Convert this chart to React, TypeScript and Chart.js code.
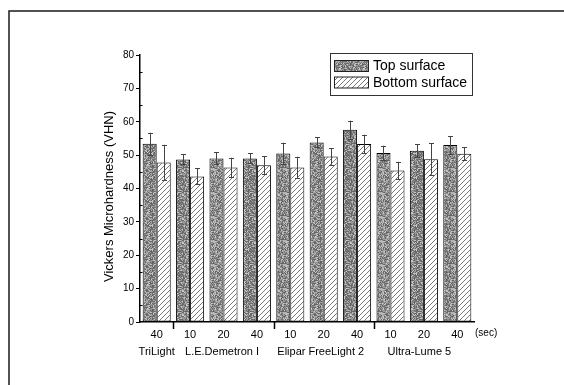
import React, { useEffect, useRef } from 'react';
import { Chart, registerables } from 'chart.js';
Chart.register(...registerables);

const categories = ['40', '10', '20', '40', '10', '20', '40', '10', '20', '40'];
const groupNames = ['TriLight', 'L.E.Demetron I', 'Elipar FreeLight 2', 'Ultra-Lume 5'];
const groupSizes = [1, 3, 3, 3];
const topValues = [53.4, 48.7, 49.0, 49.0, 50.5, 53.8, 57.6, 50.6, 51.3, 53.0];
const topErrors = [3.3, 1.5, 1.8, 1.5, 3.2, 1.5, 2.7, 2.2, 2.0, 2.6];
const bottomValues = [47.8, 43.6, 46.3, 47.0, 46.3, 49.6, 53.3, 45.4, 48.8, 50.4];
const bottomErrors = [5.3, 2.4, 2.9, 2.7, 3.2, 2.5, 2.8, 2.6, 4.7, 1.9];
const seriesLabels = ['Top surface', 'Bottom surface'];
const unitLabel = '(sec)';
const yTitle = 'Vickers Microhardness (VHN)';
const yMin = 0;
const yMax = 80;
const yStep = 10;

const FONT = '"Liberation Sans", Arial, sans-serif';

function makeSpeckle(): CanvasPattern | string {
  const c = document.createElement('canvas');
  c.width = 24;
  c.height = 24;
  const ctx = c.getContext('2d');
  if (!ctx) return '#888';
  const img = ctx.createImageData(24, 24);
  let s = 12345;
  for (let i = 0; i < 24 * 24; i++) {
    s = (s * 1103515245 + 12345) & 0x7fffffff;
    const r = (s >> 8) % 100;
    const v = r < 45 ? 95 + (r % 30) : r < 80 ? 140 + (r % 30) : 185 + (r % 40);
    img.data[i * 4] = v;
    img.data[i * 4 + 1] = v;
    img.data[i * 4 + 2] = v;
    img.data[i * 4 + 3] = 255;
  }
  ctx.putImageData(img, 0, 0);
  return ctx.createPattern(c, 'repeat') || '#888';
}

function makeHatch(): CanvasPattern | string {
  const n = 5;
  const c = document.createElement('canvas');
  c.width = n;
  c.height = n;
  const ctx = c.getContext('2d');
  if (!ctx) return '#eee';
  ctx.fillStyle = '#ffffff';
  ctx.fillRect(0, 0, n, n);
  ctx.strokeStyle = '#7a7a7a';
  ctx.lineWidth = 1;
  ctx.beginPath();
  ctx.moveTo(-1, n + 1);
  ctx.lineTo(n + 1, -1);
  ctx.moveTo(-1, 1);
  ctx.lineTo(1, -1);
  ctx.moveTo(n - 1, n + 1);
  ctx.lineTo(n + 1, n - 1);
  ctx.stroke();
  return ctx.createPattern(c, 'repeat') || '#eee';
}

const errors = [topErrors, bottomErrors];

const extrasPlugin = {
  id: 'extras',
  beforeDraw(chart: any) {
    const ctx = chart.ctx;
    ctx.save();
    ctx.fillStyle = '#fff';
    ctx.fillRect(0, 0, chart.width, chart.height);
    ctx.strokeStyle = '#1a1a1a';
    ctx.lineWidth = 1.5;
    ctx.beginPath();
    ctx.moveTo(9, chart.height);
    ctx.lineTo(9, 11);
    ctx.lineTo(chart.width, 11);
    ctx.stroke();
    ctx.restore();
  },
  afterDatasetsDraw(chart: any) {
    const ctx = chart.ctx;
    const y = chart.scales.y;
    ctx.save();
    ctx.strokeStyle = '#444';
    ctx.lineWidth = 1;
    chart.data.datasets.forEach((ds: any, di: number) => {
      const meta = chart.getDatasetMeta(di);
      meta.data.forEach((bar: any, i: number) => {
        const v = ds.data[i];
        const e = errors[di][i];
        const x = Math.round(bar.x) + 0.5;
        const yt = y.getPixelForValue(v + e);
        const yb = y.getPixelForValue(v - e);
        ctx.beginPath();
        ctx.moveTo(x, yt);
        ctx.lineTo(x, yb);
        ctx.moveTo(x - 2.5, Math.round(yt) + 0.5);
        ctx.lineTo(x + 2.5, Math.round(yt) + 0.5);
        ctx.moveTo(x - 2.5, Math.round(yb) + 0.5);
        ctx.lineTo(x + 2.5, Math.round(yb) + 0.5);
        ctx.stroke();
      });
    });
    ctx.restore();
  },
  afterDraw(chart: any) {
    const ctx = chart.ctx;
    const area = chart.chartArea;
    const x = chart.scales.x;
    const y = chart.scales.y;
    ctx.save();
    // minor ticks on y axis
    ctx.strokeStyle = '#000';
    ctx.lineWidth = 1;
    for (let v = yMin + yStep / 2; v < yMax; v += yStep) {
      const py = Math.round(y.getPixelForValue(v)) + 0.5;
      ctx.beginPath();
      ctx.moveTo(area.left, py);
      ctx.lineTo(area.left + 2.5, py);
      ctx.stroke();
    }
    // group separators and group names
    const catW = (area.right - area.left) / categories.length;
    let start = 0;
    ctx.fillStyle = '#000';
    ctx.font = '11px ' + FONT;
    ctx.textAlign = 'center';
    ctx.textBaseline = 'middle';
    groupNames.forEach((name, gi) => {
      const end = start + groupSizes[gi] - 1;
      const cx = (x.getPixelForValue(start) + x.getPixelForValue(end)) / 2;
      ctx.fillText(name, cx - gi * 1.5, area.bottom + 30);
      if (gi > 0) {
        const sx = Math.round(x.getPixelForValue(start) - catW / 2) + 0.5;
        ctx.beginPath();
        ctx.lineWidth = 1.5;
        ctx.moveTo(sx, area.bottom);
        ctx.lineTo(sx, area.bottom + 7);
        ctx.stroke();
      }
      start = end + 1;
    });
    // unit label
    ctx.font = '10px ' + FONT;
    ctx.textAlign = 'left';
    ctx.fillText(unitLabel, area.right + 1, area.bottom + 11);
    // y title
    ctx.save();
    ctx.translate(area.left - 31, (area.top + area.bottom) / 2 + 8);
    ctx.rotate(-Math.PI / 2);
    ctx.textAlign = 'center';
    ctx.textBaseline = 'middle';
    ctx.font = '13px ' + FONT;
    ctx.fillText(yTitle, 0, 0);
    ctx.restore();
    // legend
    const bx = area.right - 144;
    const by = area.top - 2;
    const bw = 142;
    const bh = 42;
    ctx.fillStyle = '#fff';
    ctx.fillRect(bx, by, bw, bh);
    ctx.strokeStyle = '#333';
    ctx.lineWidth = 1;
    ctx.strokeRect(bx + 0.5, by + 0.5, bw, bh);
    chart.data.datasets.forEach((ds: any, di: number) => {
      const cy = by + 13 + di * 16.5;
      ctx.fillStyle = ds.backgroundColor;
      ctx.fillRect(bx + 4, cy - 5.5, 34, 11);
      ctx.strokeStyle = '#222';
      ctx.strokeRect(bx + 4.5, cy - 5.5, 34, 11);
      ctx.fillStyle = '#000';
      ctx.font = '14px ' + FONT;
      ctx.textAlign = 'left';
      ctx.textBaseline = 'middle';
      ctx.fillText(ds.label, bx + 43, cy + 0.5);
    });
    ctx.restore();
  },
};

export default function App() {
  const ref = useRef<HTMLCanvasElement | null>(null);
  useEffect(() => {
    if (!ref.current) return;
    const speckle = makeSpeckle();
    const hatch = makeHatch();
    const chart = new Chart(ref.current, {
      type: 'bar',
      data: {
        labels: categories,
        datasets: [
          {
            label: seriesLabels[0],
            data: topValues,
            backgroundColor: speckle as any,
            borderColor: '#000',
            borderWidth: 1,
            borderSkipped: false,
            categoryPercentage: 0.84,
            barPercentage: 1,
          },
          {
            label: seriesLabels[1],
            data: bottomValues,
            backgroundColor: hatch as any,
            borderColor: '#000',
            borderWidth: 1,
            borderSkipped: false,
            categoryPercentage: 0.84,
            barPercentage: 1,
          },
        ],
      },
      options: {
        responsive: false,
        animation: false,
        layout: { padding: { left: 100, right: 90, top: 55, bottom: 33 } },
        plugins: {
          legend: { display: false },
          tooltip: { enabled: false },
          title: { display: false },
        },
        scales: {
          x: {
            grid: { display: false, drawTicks: false },
            border: { display: true, color: '#000', width: 1.5 },
            ticks: {
              color: '#000',
              font: { family: FONT, size: 11 },
              padding: 6,
              maxRotation: 0,
              autoSkip: false,
            },
            afterFit(scale: any) {
              scale.height = 30;
            },
          },
          y: {
            min: yMin,
            max: yMax,
            grid: {
              drawOnChartArea: false,
              drawTicks: true,
              tickLength: 4,
              color: '#000',
            },
            border: { display: true, color: '#000', width: 1.5 },
            ticks: {
              stepSize: yStep,
              color: '#000',
              font: { family: FONT, size: 10 },
              padding: 2,
            },
            afterFit(scale: any) {
              scale.width = 40;
            },
          },
        },
      },
      plugins: [extrasPlugin],
    });
    return () => chart.destroy();
  }, []);
  return (
    <div style={{ position: 'fixed', left: 0, top: 0, width: 564, height: 385, background: '#fff' }}>
      <canvas ref={ref} width={564} height={385} style={{ display: 'block' }} />
    </div>
  );
}
